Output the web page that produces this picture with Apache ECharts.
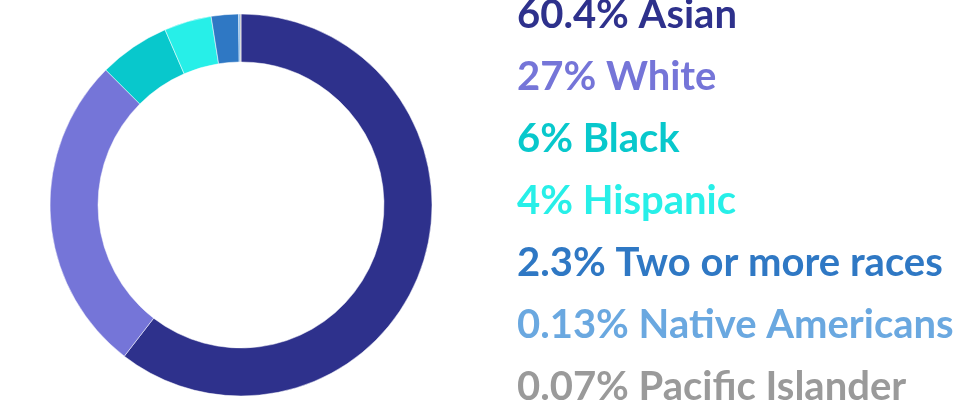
<!DOCTYPE html>
<html><head><meta charset="utf-8">
<script src="https://cdn.jsdelivr.net/npm/echarts@6/dist/echarts.min.js"></script>
<style>html,body{margin:0;padding:0;background:#fff}#c{width:978px;height:407px}</style>
</head><body><div id="c"></div>
<script>
const categories = ["Asian","White","Black","Hispanic","Two or more races","Native Americans","Pacific Islander"];
const values = [60.4, 27, 6, 4, 2.3, 0.13, 0.07];
const colors = ["#2e318c","#7575d8","#08c8cc","#27efe8","#2f78c4","#6aa8e0","#9a9a9a"];

const chart = echarts.init(document.getElementById('c'), null, {renderer:'canvas'});
const data = categories.map((n,i)=>({name:n, value:values[i], itemStyle:{color:colors[i]}}));
chart.setOption({
  animation:false,
  legend:{
    orient:'vertical', left:507, top:-12, height:600, itemGap:18, icon:'none', itemWidth:0, itemHeight:44,
    selectedMode:false,
    formatter:(name)=>values[categories.indexOf(name)]+'% '+name,
    data: categories.map((n,i)=>({name:n, textStyle:{color:colors[i]}})),
    textStyle:{fontFamily:'Lato', fontWeight:'bold', fontSize:40, lineHeight:44, padding:0}
  },
  series:[{
    type:'pie', center:[241,205], radius:[143,191], startAngle:90, clockwise:true,
    label:{show:false}, labelLine:{show:false}, silent:true,
    itemStyle:{borderColor:'#fff', borderWidth:0.5},
    data
  }]
});
</script></body></html>
